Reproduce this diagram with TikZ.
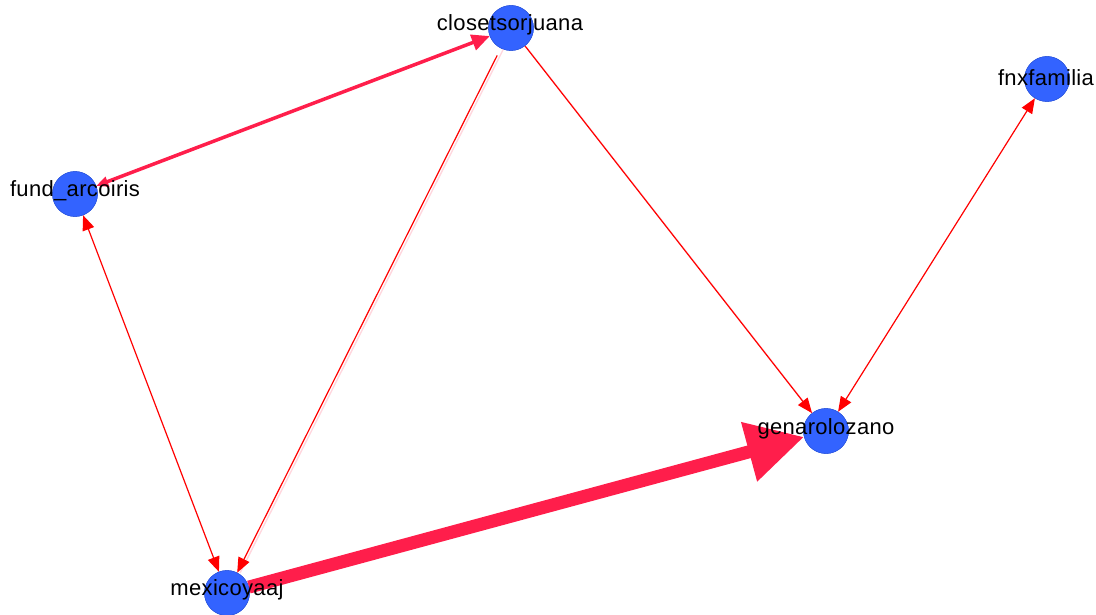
\documentclass[tikz,border=0pt]{standalone}
\usepackage{fontspec}
\setmainfont{Liberation Sans}
\usetikzlibrary{arrows.meta}
\definecolor{nodeblue}{RGB}{51,99,255}
\definecolor{crim}{RGB}{255,30,75}
\definecolor{edgered}{RGB}{255,0,0}
\definecolor{faintpink}{RGB}{255,215,222}
\begin{document}
\begin{tikzpicture}[x=1pt,y=-1pt,
  vert/.style={circle,fill=nodeblue,draw=nodeblue!85!black,line width=0.4pt,minimum size=45pt,inner sep=0pt},
  lbl/.style={font=\fontsize{22}{22}\selectfont\addfontfeature{LetterSpace=1.5},text=black,inner sep=0pt},
  thin/.style={draw=edgered,line width=1.2pt},
  faint/.style={draw=faintpink,line width=1.4pt}]
\useasboundingbox (0,0) rectangle (1096,615);
% nodes (circles)
\node[vert] (c) at (511,28) {};
\node[vert] (x) at (1047,79) {};
\node[vert] (f) at (75,194) {};
\node[vert] (g) at (826,431) {};
\node[vert] (m) at (227,593) {};
% edges
\draw[faint,transform canvas={shift={(3pt,0pt)}}] (c) -- (m);
\draw[faint,transform canvas={shift={(2pt,-2pt)}}] (c) -- (g);
\draw[thin,-{Triangle[length=15pt,width=12pt]},shorten <=8pt] (c) -- (m);
\draw[thin,-{Triangle[length=15pt,width=12pt]}] (c) -- (g);
\draw[thin,{Triangle[length=15pt,width=12pt]}-{Triangle[length=15pt,width=12pt]}] (f) -- (m);
\draw[thin,{Triangle[length=15pt,width=12pt]}-{Triangle[length=15pt,width=12pt]}] (x) -- (g);
\draw[draw=crim,fill=crim,line width=3.5pt,{Triangle[length=18pt,width=16pt]}-{Triangle[length=12pt,width=10pt]}] (c) -- (f);
\draw[draw=crim,line width=13pt,-{Triangle[length=57pt,width=58pt]}] (m) -- (g);
% redraw nodes on top
\node[vert] at (c) {};
\node[vert] at (x) {};
\node[vert] at (f) {};
\node[vert] at (g) {};
\node[vert] at (m) {};
% labels
\node[lbl] (lc) at (510,25) {closetsorjuana};
\node[lbl] (lx) at (1046,78) {fnxfamilia};
\node[lbl] (lf) at (75,191) {fund\_arcoiris};
\node[lbl] (lg) at (826,429) {genarolozano};
\node[lbl] (lm) at (227,590) {mexicoyaaj};
\end{tikzpicture}
\end{document}
